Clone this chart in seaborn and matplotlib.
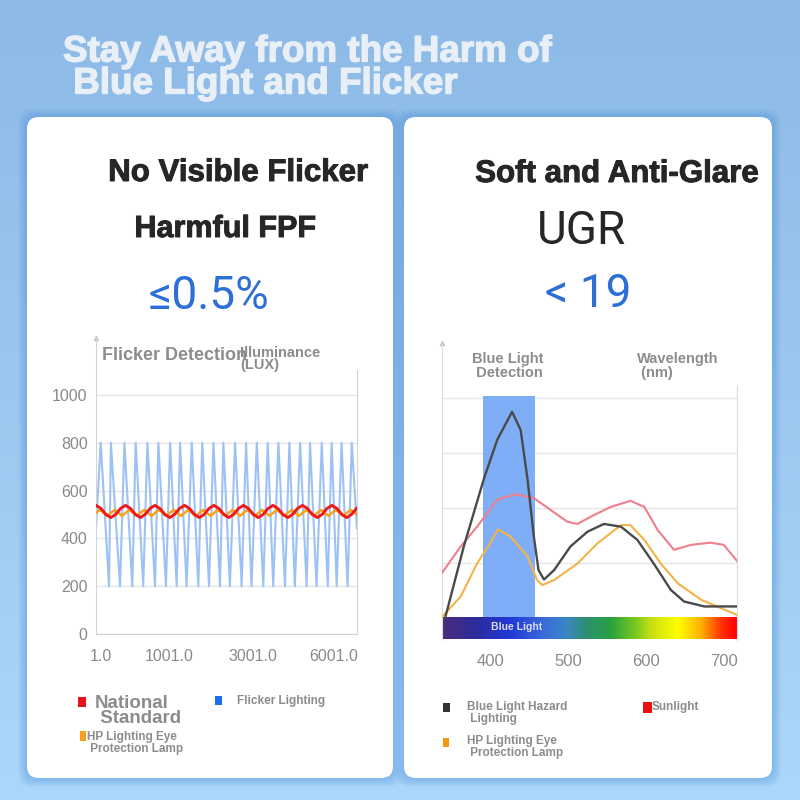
import numpy as np
import matplotlib
matplotlib.use("Agg")
import matplotlib.pyplot as plt
import matplotlib.patheffects as pe
import seaborn as sns
from matplotlib.patches import FancyBboxPatch, Rectangle
from matplotlib.colors import LinearSegmentedColormap

sns.set_style("white")
plt.rcParams['font.family'] = ['Liberation Sans', 'DejaVu Sans']

# ---- left chart: flicker detection (time axis 0..100, illuminance in lux)
flicker_t = [0.0, 1.8, 5.0, 5.7, 9.2, 10.9, 13.9, 15.2, 18.1, 19.7, 22.6, 23.9,
             26.8, 28.4, 30.9, 32.2, 34.7, 36.7, 39.2, 40.7, 43.3, 45.0, 47.5,
             48.8, 51.3, 53.3, 55.8, 57.5, 59.6, 61.6, 64.1, 65.8, 67.9, 69.9,
             72.4, 74.1, 76.2, 78.2, 80.7, 82.0, 84.5, 86.5, 88.8, 90.3, 92.2,
             94.1, 96.4, 98.0, 100.0]
flicker_lux = [440, 800, 200, 800, 200, 800, 200, 800, 200, 800, 200, 800,
               200, 800, 200, 800, 200, 800, 200, 800, 200, 800, 200,
               800, 200, 800, 200, 800, 200, 800, 200, 800, 200, 800,
               200, 800, 200, 800, 200, 800, 200, 800, 200, 800, 200,
               800, 200, 800, 440]

national_t = [0.0, 1.9, 3.8, 5.7, 7.5, 9.4, 11.3, 13.2, 15.1, 17.0, 18.8, 20.7,
              22.6, 24.5, 26.4, 28.3, 30.1, 32.0, 33.9, 35.8, 37.7, 39.6, 41.4,
              43.3, 45.2, 47.1, 49.0, 50.9, 52.7, 54.6, 56.5, 58.4, 60.3, 62.2,
              64.0, 65.9, 67.8, 69.7, 71.6, 73.5, 75.3, 77.2, 79.1, 81.0, 82.9,
              84.8, 86.6, 88.5, 90.4, 92.3, 94.2, 96.1, 97.9, 100.0]
national_lux = [538, 525, 500, 487, 500, 525, 538, 525, 500, 487, 500, 525,
                538, 525, 500, 487, 500, 525, 538, 525, 500, 487, 500,
                525, 538, 525, 500, 487, 500, 525, 538, 525, 500, 487,
                500, 525, 538, 525, 500, 487, 500, 525, 538, 525, 500,
                487, 500, 525, 538, 525, 500, 487, 500, 528]

hp_t = [0.1, 1.5, 2.9, 4.3, 5.75, 7.15, 8.6, 10.0, 11.4, 12.8, 14.2, 15.6,
        17.05, 18.5, 19.9, 21.3, 22.7, 24.1, 25.5, 26.9, 28.35, 29.75, 31.2,
        32.6, 34.0, 35.4, 36.8, 38.2, 39.65, 41.05, 42.5, 43.9, 45.3, 46.7,
        48.1, 49.5, 50.95, 52.35, 53.8, 55.2, 56.6, 58.0, 59.4, 60.8, 62.25,
        63.65, 65.1, 66.5, 67.9, 69.3, 70.7, 72.1, 73.55, 74.95, 76.4, 77.8,
        79.2, 80.6, 82.0, 83.4, 84.85, 86.25, 87.7, 89.1, 90.5, 91.9, 93.3,
        94.7, 96.15, 97.55, 99.0, 100.0]
hp_lux = [507, 519, 507, 494, 507, 519, 507, 494, 507, 519, 507, 494,
          507, 519, 507, 494, 507, 519, 507, 494, 507, 519, 507,
          494, 507, 519, 507, 494, 507, 519, 507, 494, 507, 519,
          507, 494, 507, 519, 507, 494, 507, 519, 507, 494, 507,
          519, 507, 494, 507, 519, 507, 494, 507, 519, 507, 494,
          507, 519, 507, 494, 507, 519, 507, 494, 507, 519, 507,
          494, 507, 519, 507, 500]

lux_ticks = [0, 200, 400, 600, 800, 1000]
time_tick_pos = [2, 28, 60, 91]
time_tick_labels = ["1.0", "1001.0", "3001.0", "6001.0"]

# ---- right chart: blue light detection (wavelength nm, relative intensity)
hazard_nm = [342, 366, 392, 409, 428, 439, 448, 456, 462, 469, 482, 503, 525,
             546, 568, 589, 610, 632, 649, 675, 718]
hazard_val = [0.0, 1.30, 2.54, 3.24, 3.75, 3.42, 2.51, 1.48, 0.87, 0.70, 0.87,
              1.30, 1.57, 1.71, 1.66, 1.42, 0.99, 0.51, 0.30, 0.21, 0.21]

sun_nm = [338, 362, 383, 409, 432, 456, 478, 499, 512, 533, 555, 580, 598,
          615, 636, 658, 683, 700, 718]
sun_val = [0.82, 1.30, 1.66, 2.15, 2.25, 2.18, 1.96, 1.75, 1.71, 1.87, 2.02,
           2.13, 2.02, 1.60, 1.24, 1.33, 1.37, 1.33, 1.02]

hp_nm = [338, 362, 383, 400, 410, 426, 448, 460, 467, 482, 512, 538, 568,
         580, 598, 619, 641, 671, 718]
hp_val = [0.02, 0.39, 0.99, 1.36, 1.61, 1.48, 1.12, 0.69, 0.60, 0.69, 0.99,
          1.36, 1.69, 1.69, 1.42, 0.99, 0.63, 0.33, 0.05]

wl_ticks = [400, 500, 600, 700]
blue_band = (391, 458)

GRAY = "#8c8c8c"
DARK = "#262626"
BLUE_TXT = "#2d6fd6"


def heavy(c, w=0.9):
    return [pe.withStroke(linewidth=w, foreground=c)]


fig = plt.figure(figsize=(8, 8), dpi=100)

# background canvas in pixel coordinates
bg = fig.add_axes([0, 0, 1, 1])
bg.set_xlim(0, 800)
bg.set_ylim(800, 0)
bg.axis("off")
grad = LinearSegmentedColormap.from_list("bg", ["#8cb9e6", "#9cc8ef", "#aad7fa"])
bg.imshow(np.linspace(0, 1, 256).reshape(-1, 1), cmap=grad, aspect="auto",
          extent=[0, 800, 800, 0], zorder=0)

for x0, x1 in [(27, 393), (404, 772)]:
    for k in range(6):
        pad = 1 + k * 1.5
        bg.add_patch(FancyBboxPatch((x0 - pad, 117 - pad), x1 - x0 + 2 * pad,
                                    661 + 2 * pad,
                                    boxstyle="round,pad=0,rounding_size=14",
                                    fc="#3f86d6", ec="none", alpha=0.07, zorder=1))
    bg.add_patch(FancyBboxPatch((x0, 117), x1 - x0, 661,
                                boxstyle="round,pad=0,rounding_size=12",
                                fc="white", ec="none", zorder=2))

bg.text(63, 52, "Stay Away from the Harm of", fontsize=26.5, fontweight="bold",
        color="#e8eff6", ha="left", va="center", zorder=3,
        path_effects=heavy("#e8eff6", 1.0))
bg.text(63, 84, " Blue Light and Flicker", fontsize=26.5, fontweight="bold",
        color="#e8eff6", ha="left", va="center", zorder=3,
        path_effects=heavy("#e8eff6", 1.0))

# headings
bg.text(238, 173, "No Visible Flicker", fontsize=22.5, fontweight="bold",
        color=DARK, ha="center", va="center", zorder=3, path_effects=heavy(DARK, 0.7))
bg.text(225, 229, "Harmful FPF", fontsize=22, fontweight="bold",
        color=DARK, ha="center", va="center", zorder=3, path_effects=heavy(DARK, 0.7))
bg.text(209, 296, "≤0.5%", fontsize=33, color=BLUE_TXT, ha="center",
        va="center", family=["Roboto", "DejaVu Sans"], zorder=3)
bg.text(617, 174, "Soft and Anti-Glare", fontsize=22.5, fontweight="bold",
        color=DARK, ha="center", va="center", zorder=3, path_effects=heavy(DARK, 0.7))
bg.text(582, 231, "UGR", fontsize=33, color=DARK, ha="center", va="center",
        family=["Roboto", "DejaVu Sans"], zorder=3)
bg.text(588, 294, "< 19", fontsize=33, color=BLUE_TXT, ha="center",
        va="center", family=["Roboto", "DejaVu Sans"], zorder=3)

# chart labels
bg.text(102, 355, "Flicker Detection", fontsize=13, fontweight="bold",
        color=GRAY, ha="left", va="center", zorder=5)
bg.text(240, 359, "Illuminance\n(LUX)", fontsize=10.5, fontweight="bold",
        color=GRAY, ha="left", va="center", linespacing=0.9, zorder=5)
bg.text(472, 366, "Blue Light\n Detection", fontsize=10.5, fontweight="bold",
        color=GRAY, ha="left", va="center", linespacing=0.95, zorder=5)
bg.text(637, 366, "Wavelength\n (nm)", fontsize=10.5, fontweight="bold",
        color=GRAY, ha="left", va="center", linespacing=0.95, zorder=5)

# legends
def square(x, y, w, h, c):
    bg.add_patch(Rectangle((x, y), w, h, fc=c, ec="none", zorder=4))

square(78, 697, 8, 10, "#e8101a")
bg.text(95, 711, "National\n Standard", fontsize=13.5, fontweight="bold",
        color=GRAY, ha="left", va="center", linespacing=0.9, zorder=4)
square(215, 696, 7, 9, "#1a6ef0")
bg.text(237, 701, "Flicker Lighting", fontsize=8.5, fontweight="bold",
        color=GRAY, ha="left", va="center", zorder=4)
square(80, 731, 6, 10, "#f5a020")
bg.text(87, 743, "HP Lighting Eye\n Protection Lamp", fontsize=8.5,
        fontweight="bold", color=GRAY, ha="left", va="center",
        linespacing=0.95, zorder=4)

square(443, 703, 7, 9, "#333333")
bg.text(467, 713, "Blue Light Hazard\n Lighting", fontsize=8.5, fontweight="bold",
        color=GRAY, ha="left", va="center", linespacing=0.95, zorder=4)
square(643, 702, 9, 11, "#ee1010")
bg.text(652, 707, "Sunlight", fontsize=8.5, fontweight="bold",
        color=GRAY, ha="left", va="center", zorder=4)
square(443, 738, 6, 9, "#f59a10")
bg.text(467, 747, "HP Lighting Eye\n Protection Lamp", fontsize=8.5,
        fontweight="bold", color=GRAY, ha="left", va="center",
        linespacing=0.95, zorder=4)


def px_axes(x0, y0, x1, y1):
    return fig.add_axes([x0 / 800, 1 - y1 / 800, (x1 - x0) / 800, (y1 - y0) / 800])


# ---- left chart
ax1 = px_axes(96, 338, 357, 634)
ax1.set_facecolor("none")
sns.lineplot(x=flicker_t, y=flicker_lux, ax=ax1, color="#9cc2f5", lw=1.5,
             estimator=None, sort=False, zorder=2)
sns.lineplot(x=hp_t, y=hp_lux, ax=ax1, color="#f7a21b", lw=1.8,
             estimator=None, sort=False, zorder=3)
sns.lineplot(x=national_t, y=national_lux, ax=ax1, color="#ee1a1a", lw=2.1,
             estimator=None, sort=False, zorder=4)
ax1.set_xlim(0, 100)
ax1.set_ylim(0, 1238)
ax1.set_yticks(lux_ticks)
ax1.set_yticklabels([str(v) for v in lux_ticks])
ax1.set_xticks(time_tick_pos)
ax1.set_xticklabels(time_tick_labels)
ax1.tick_params(axis="both", length=0, labelsize=11.5, labelcolor="#8a8a8a")
ax1.tick_params(axis="x", pad=11)
ax1.tick_params(axis="y", pad=6)
ax1.grid(axis="y", color="#e6e6e6", lw=1)
ax1.set_axisbelow(True)
for s in ["left", "bottom", "right"]:
    ax1.spines[s].set_visible(True)
    ax1.spines[s].set_color("#d4d4d4")
ax1.spines["top"].set_visible(False)
ax1.spines["right"].set_bounds(0, 1105)
ax1.plot([0], [1238], marker="^", ms=3, color="#c8c8c8", clip_on=False)

# ---- right chart
ax2 = px_axes(442, 343, 737, 640)
ax2.set_facecolor("none")
ax2.add_patch(Rectangle((blue_band[0], 0), blue_band[1] - blue_band[0], 4.04,
                        fc="#80aef6", ec="none", zorder=1))
spec = LinearSegmentedColormap.from_list("spec", [
    (0.0, "#4a2d7a"), (0.12, "#2c2c9e"), (0.23, "#2238d8"), (0.35, "#3a6ed8"),
    (0.42, "#3a86c6"), (0.49, "#2e9070"), (0.57, "#28a040"), (0.66, "#7ccb20"),
    (0.71, "#c8e010"), (0.80, "#ffff00"), (0.88, "#ffb000"), (0.95, "#ff3000"),
    (1.0, "#ff0000")])
ax2.imshow(np.linspace(0, 1, 512).reshape(1, -1), cmap=spec, aspect="auto",
           extent=[338, 717, -0.38, 0.02], zorder=2)
ax2.text(434, -0.17, "Blue Light", fontsize=7.5, fontweight="bold",
         color="#d8dcf5", ha="center", va="center", zorder=3)
sns.lineplot(x=sun_nm, y=sun_val, ax=ax2, color="#f07e8c", lw=1.5,
             estimator=None, sort=False, zorder=3)
sns.lineplot(x=hp_nm, y=hp_val, ax=ax2, color="#f5b347", lw=1.5,
             estimator=None, sort=False, zorder=4)
sns.lineplot(x=hazard_nm, y=hazard_val, ax=ax2, color="#4a4a4a", lw=1.7,
             estimator=None, sort=False, zorder=5)
ax2.set_xlim(338, 717)
ax2.set_ylim(-0.4, 5.0)
ax2.set_yticks([1, 2, 3, 4])
ax2.set_yticklabels([])
ax2.set_xticks(wl_ticks)
ax2.set_xticklabels([str(v) for v in wl_ticks])
ax2.tick_params(axis="both", length=0, labelsize=12, labelcolor="#8a8a8a")
ax2.tick_params(axis="x", pad=10)
ax2.grid(axis="y", color="#e6e6e6", lw=1)
ax2.set_axisbelow(True)
for s in ["left", "right"]:
    ax2.spines[s].set_visible(True)
    ax2.spines[s].set_color("#dcdcdc")
ax2.spines["top"].set_visible(False)
ax2.spines["bottom"].set_visible(False)
ax2.spines["right"].set_bounds(-0.4, 4.24)
ax2.plot([338], [5.0], marker="^", ms=3, color="#c8c8c8", clip_on=False)

fig.savefig("out.png", dpi=100)
